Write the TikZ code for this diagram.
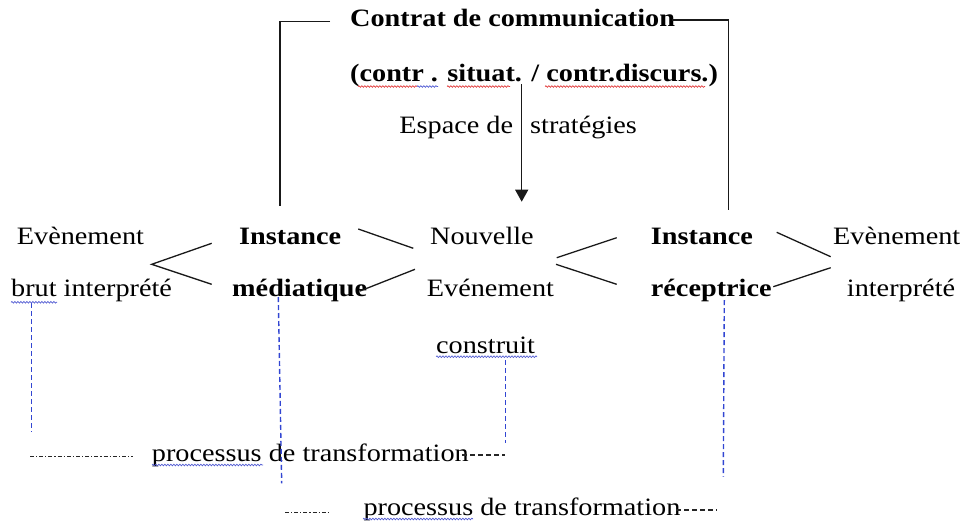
\documentclass[tikz,border=0pt]{standalone}
\usepackage{fontspec}
\setmainfont{Liberation Serif}[FakeStretch=1.13]
\usetikzlibrary{arrows.meta,decorations.pathmorphing}
\definecolor{guideblue}{RGB}{50,70,210}
\definecolor{spellred}{RGB}{225,60,60}
\definecolor{spellblue}{RGB}{80,90,210}

\begin{document}
\begin{tikzpicture}[x=1pt,y=-1pt,
  lbl/.style={inner sep=0pt, font=\fontsize{25}{29}\selectfont},
  bl/.style={inner sep=0pt, font=\fontsize{25}{29}\selectfont\bfseries},
  frame/.style={line width=1.3pt, black!90},
  chev/.style={line width=1.3pt, black!90},
  guide/.style={line width=1.4pt, guideblue, dash pattern=on 5pt off 3pt},
  dotdash/.style={line width=1.1pt, black!85, dash pattern=on 4pt off 2pt on 1.2pt off 2pt},
  spaced/.style={line width=1.1pt, black!85, dash pattern=on 5pt off 3pt},
  squig/.style={line width=0.7pt, decorate, decoration={snake, amplitude=0.8pt, segment length=3pt}},
]
\useasboundingbox (0,0) rectangle (972,523);

% --- contract header ---
\node[bl, anchor=base west] (contrat) at (350,26) {Contrat de communication};
\node[bl, anchor=base west] (sous) at (350,81.7) {(contr . situat. / contr.discurs.)};
\node[lbl, anchor=base east] (espace) at (513.3,133.3) {Espace de};
\node[lbl, anchor=base west] (strat) at (530,133.3) {stratégies};

% --- first row ---
\node[lbl, anchor=base west] (ev1) at (16.7,244.3) {Evènement};
\node[bl,  anchor=base west] (inst1) at (239,244.3) {Instance};
\node[lbl, anchor=base west] (nouv) at (430,244.3) {Nouvelle};
\node[bl,  anchor=base west] (inst2) at (650.7,244.3) {Instance};
\node[lbl, anchor=base west] (ev3) at (833,244.3) {Evènement};

% --- second row ---
\node[lbl, anchor=base west] (brut) at (11,296.7) {brut interprété};
\node[bl,  anchor=base west] (media) at (232,296.7) {médiatique};
\node[lbl, anchor=base west] (ev2) at (426.7,296.7) {Evénement};
\node[bl,  anchor=base west] (recep) at (650.7,296.7) {réceptrice};
\node[lbl, anchor=base west] (interp) at (846.7,296.7) {interprété};

\node[lbl, anchor=base west] (constr) at (436,353.3) {construit};
\node[lbl, anchor=base west] (proc1) at (151.7,461.7) {processus de transformation};
\node[lbl, anchor=base west] (proc2) at (363.3,515) {processus de transformation};

% --- bracket from the contract down to both instances ---
\coordinate (bl0) at (330,21.7);
\coordinate (bl1) at (280,21.7);
\coordinate (bl2) at (280,206);
\coordinate (br0) at (672,20);
\coordinate (br1) at (728.3,20);
\coordinate (br2) at (728.3,210);
\draw[frame] (bl0) -- (bl1) -- (bl2);
\draw[frame] (br0) -- (br1) -- (br2);

% --- arrow into the strategy space ---
\coordinate (a0) at (521.7,84);
\coordinate (a1) at (521.7,201.7);
\draw[frame, -{Triangle[width=13pt,length=12pt]}] (a0) -- (a1);

% --- chevrons between the instances ---
\coordinate (c1v) at (151.7,264.3);
\coordinate (c1a) at (211.7,243.3);
\coordinate (c1b) at (211.7,284.3);
\draw[chev] (c1a) -- (c1v) -- (c1b);

\coordinate (c2a) at (358.3,229);
\coordinate (c2b) at (413.3,248.3);
\coordinate (c2c) at (415,269.3);
\coordinate (c2d) at (360,291);
\draw[chev] (c2a) -- (c2b);
\draw[chev] (c2c) -- (c2d);

\coordinate (c3a) at (616.7,237.7);
\coordinate (c3b) at (556.7,257.7);
\coordinate (c3c) at (556,264.3);
\coordinate (c3d) at (616.7,284.3);
\draw[chev] (c3a) -- (c3b);
\draw[chev] (c3c) -- (c3d);

\coordinate (c4a) at (776.7,232.3);
\coordinate (c4b) at (830.7,256.7);
\coordinate (c4c) at (830.7,267.7);
\coordinate (c4d) at (773.3,286.7);
\draw[chev] (c4a) -- (c4b);
\draw[chev] (c4c) -- (c4d);

% --- dashed guides to the transformation processes ---
\coordinate (g1a) at (31.7,303);   \coordinate (g1b) at (31.7,431.7);
\coordinate (g2a) at (278.3,297);  \coordinate (g2b) at (281.7,483.3);
\coordinate (g3a) at (505.7,360);  \coordinate (g3b) at (505.7,443.3);
\coordinate (g4a) at (724.3,300);  \coordinate (g4b) at (723.3,476.7);
\draw[guide] (g1a) -- (g1b);
\draw[guide] (g2a) -- (g2b);
\draw[guide] (g3a) -- (g3b);
\draw[guide] (g4a) -- (g4b);

\coordinate (p1a) at (30,456.7);  \coordinate (p1b) at (133.3,456.7);
\coordinate (p1c) at (462,455);   \coordinate (p1d) at (505,455);
\coordinate (p2a) at (285,512.7); \coordinate (p2b) at (330,512.7);
\coordinate (p2c) at (676,510);   \coordinate (p2d) at (716.7,510);
\draw[dotdash] (p1a) -- (p1b);
\draw[spaced] (p1c) -- (p1d);
\draw[dotdash] (p2a) -- (p2b);
\draw[spaced] (p2c) -- (p2d);

% --- proofing underlines ---
\draw[squig, spellred]  (358,86.5) -- (417,86.5);
\draw[squig, spellblue] (417,86.5) -- (438,86.5);
\draw[squig, spellred]  (447,86.5) -- (510,86.5);
\draw[squig, spellred]  (545,86.5) -- (705,86.5);
\draw[squig, spellblue] (11,302.3) -- (57,302.3);
\draw[squig, spellblue] (436,356.7) -- (537,356.7);
\draw[squig, spellblue] (152,465) -- (263,465);
\draw[squig, spellblue] (363,519) -- (473,519);
\end{tikzpicture}
\end{document}
